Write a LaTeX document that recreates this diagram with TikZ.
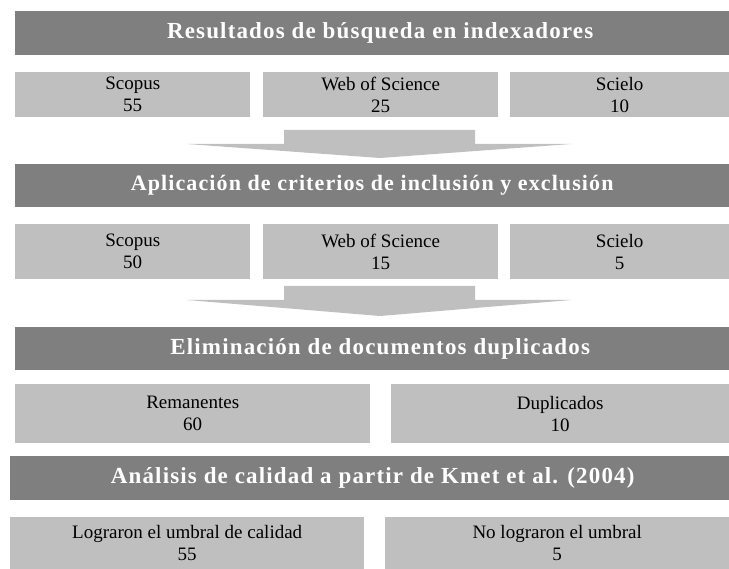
\documentclass[tikz,border=0pt]{standalone}
\usepackage{fontspec}
\setmainfont{Liberation Serif}
\newfontfamily\headfont[LetterSpace=5]{Liberation Serif}
\usetikzlibrary{positioning}
\definecolor{hdgray}{RGB}{127,127,127}
\definecolor{boxgray}{RGB}{191,191,191}
\tikzset{header/.style={fill=hdgray,text=white,font=\headfont\fontsize{23}{26}\selectfont\bfseries,anchor=north west,inner sep=0pt,minimum height=44pt},
         cell/.style={fill=boxgray,font=\fontsize{19}{22}\selectfont,align=center,anchor=north west,inner sep=0pt},
         bigarrow/.style={fill=boxgray}}

\begin{document}
\begin{tikzpicture}[x=1pt,y=-1pt]
                \useasboundingbox (0,0) rectangle (729,569);
                % indexadores
                \node[header,minimum width=730pt] (busqueda) at (15,11) {Resultados de búsqueda en indexadores};
                \node[cell,minimum width=235pt,minimum height=45pt] (scopusA) at (15,72) {Scopus\\55};
                \node[cell,minimum width=235pt,minimum height=45pt] (wosA) at (263,72) {Web of Science\\25};
                \node[cell,minimum width=219pt,minimum height=45pt] (scieloA) at (510,72) {Scielo\\10};
                % criterios
                \node[header,minimum width=714pt,minimum height=43pt,font=\headfont\fontsize{22}{26}\selectfont\bfseries] (criterios) at (15,164) {Aplicación de criterios de inclusión y exclusión};
                \node[cell,minimum width=235pt,minimum height=55pt] (scopusB) at (15,224) {Scopus\\50};
                \node[cell,minimum width=235pt,minimum height=55pt] (wosB) at (263,224) {Web of Science\\15};
                \node[cell,minimum width=219pt,minimum height=55pt] (scieloB) at (510,224) {Scielo\\5};
                % flechas
                \foreach \y/\t in {130/14,286/16}
                    \fill[bigarrow] (284,\y) -- (475,\y) -- (475,\y+14) -- (571,\y+14)
                        -- (380,\y+14+\t) -- (187,\y+14) -- (284,\y+14) -- cycle;
                % duplicados
                \node[header,minimum width=730pt,minimum height=43pt] (duplicados) at (15,327) {Eliminación de documentos duplicados};
                \node[cell,minimum width=355pt,minimum height=59pt] (remanentes) at (15,384) {Remanentes\\60};
                \node[cell,minimum width=338pt,minimum height=59pt] (repetidos) at (391,384) {Duplicados\\10};
                % calidad
                \node[header,minimum width=725pt] (calidad) at (10,456) {Análisis de calidad a partir de Kmet et al. (2004)};
                \node[cell,minimum width=354pt,minimum height=52pt] (logrados) at (10,517) {Lograron el umbral de calidad\\55};
                \node[cell,minimum width=344pt,minimum height=52pt] (nologrados) at (385,517) {No lograron el umbral\\5};
            \end{tikzpicture}
\end{document}
